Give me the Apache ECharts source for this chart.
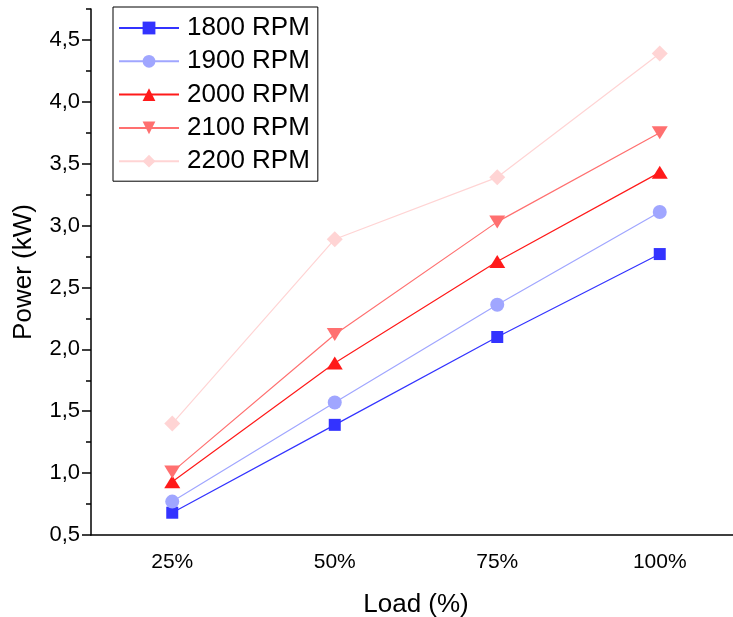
<!DOCTYPE html>
<html>
<head>
<meta charset="utf-8">
<script src="https://cdn.jsdelivr.net/npm/echarts@6/dist/echarts.min.js"></script>
<style>html,body{margin:0;padding:0;background:#fff}#c{width:733px;height:617px}</style>
</head>
<body>
<div id="c"></div>
<script>
const categories = ['25%', '50%', '75%', '100%'];
const seriesNames = ['1800 RPM', '1900 RPM', '2000 RPM', '2100 RPM', '2200 RPM'];
const rpm1800 = [0.68, 1.39, 2.10, 2.77];
const rpm1900 = [0.77, 1.57, 2.36, 3.11];
const rpm2000 = [0.93, 1.89, 2.71, 3.43];
const rpm2100 = [1.01, 2.12, 3.03, 3.75];
const rpm2200 = [1.40, 2.89, 3.39, 4.39];
const yMajorTicks = [0.5, 1.0, 1.5, 2.0, 2.5, 3.0, 3.5, 4.0, 4.5];
const yMinorTicks = [0.75, 1.25, 1.75, 2.25, 2.75, 3.25, 3.75, 4.25, 4.75];
const yMin = 0.5, yMax = 4.75;

const colors = ['#3333FF', '#A0A6FF', '#FF1A1A', '#FF7070', '#FFD4D4'];
const symbols = ['rect', 'circle', 'triangle', 'triangle', 'diamond'];
const symbolSizes = [12, 14, [16, 13], [16, 13], 16];
const rotations = [0, 0, 0, 180, 0];
const allData = [rpm1800, rpm1900, rpm2000, rpm2100, rpm2200];

const FONT = 'Liberation Sans, Arial, sans-serif';
const chart = echarts.init(document.getElementById('c'), null, {renderer: 'canvas'});

const series = seriesNames.map((name, i) => ({
  name: name,
  type: 'line',
  data: allData[i],
  xAxisIndex: 0,
  yAxisIndex: 0,
  symbol: symbols[i],
  symbolSize: symbolSizes[i],
  symbolRotate: rotations[i],
  showAllSymbol: true,
  lineStyle: {color: colors[i], width: 1.2},
  itemStyle: {color: colors[i]},
  emphasis: {disabled: true},
  z: 2 + i
}));

chart.setOption({
  animation: false,
  textStyle: {fontFamily: FONT},
  grid: {left: 91, top: 9, bottom: 82, width: 650, containLabel: false, outerBoundsMode: 'none'},
  legend: {
    orient: 'vertical',
    left: 113,
    top: 7,
    padding: [8, 8, 7, 5],
    borderColor: '#000',
    borderWidth: 1,
    itemWidth: 60,
    itemHeight: 16,
    itemGap: 7.3,
    textStyle: {fontSize: 26, color: '#000', fontFamily: FONT, lineHeight: 26, padding: [0, 0, 0, 3]},
    data: seriesNames
  },
  xAxis: [{
    type: 'category',
    data: categories,
    boundaryGap: true,
    position: 'bottom',
    axisLine: {lineStyle: {color: '#000', width: 1.5}},
    axisTick: {alignWithLabel: true, length: 9, lineStyle: {color: '#000', width: 1.5}},
    axisLabel: {fontSize: 21, color: '#000', margin: 17, fontFamily: FONT},
    splitLine: {show: false},
    name: 'Load (%)',
    nameLocation: 'middle',
    nameGap: 57,
    nameTextStyle: {fontSize: 26, color: '#000', fontFamily: FONT}
  }, {
    type: 'category',
    data: categories,
    boundaryGap: true,
    position: 'bottom',
    offset: 0,
    axisLine: {show: false},
    axisTick: {length: 5, lineStyle: {color: '#000', width: 1.5}},
    axisLabel: {show: false},
    splitLine: {show: false}
  }],
  yAxis: [{
    type: 'value',
    min: yMin,
    max: yMax,
    interval: 0.5,
    position: 'left',
    axisLine: {show: true, lineStyle: {color: '#000', width: 1.5}},
    axisTick: {show: true, length: 9, customValues: yMajorTicks, lineStyle: {color: '#000', width: 1.5}},
    axisLabel: {
      fontSize: 22, color: '#000', margin: 11, fontFamily: FONT,
      customValues: yMajorTicks,
      formatter: v => v.toFixed(1).replace('.', ',')
    },
    splitLine: {show: false},
    name: 'Power (kW)',
    nameLocation: 'middle',
    nameGap: 54,
    nameTextStyle: {fontSize: 26, color: '#000', fontFamily: FONT}
  }, {
    type: 'value',
    min: yMin,
    max: yMax,
    interval: 0.25,
    position: 'left',
    offset: 0,
    axisLine: {show: false},
    axisTick: {show: true, length: 5, customValues: yMinorTicks, lineStyle: {color: '#000', width: 1.5}},
    axisLabel: {show: false},
    splitLine: {show: false}
  }],
  series: series
});
</script>
</body>
</html>
